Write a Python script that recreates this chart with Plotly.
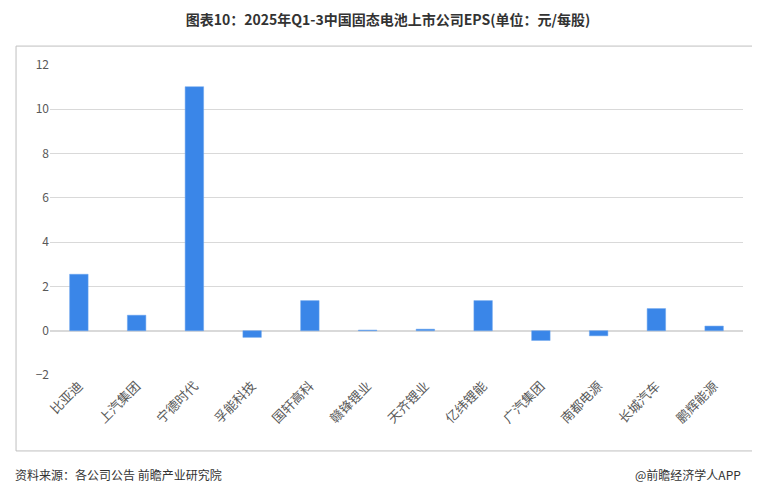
import plotly.graph_objects as go

companies = ["比亚迪","上汽集团","宁德时代","孚能科技","国轩高科","赣锋锂业","天齐锂业","亿纬锂能","广汽集团","南都电源","长城汽车","鹏辉能源"]
eps = [2.55, 0.70, 11.02, -0.30, 1.36, 0.03, 0.07, 1.36, -0.44, -0.23, 1.00, 0.21]
yticks = [-2, 0, 2, 4, 6, 8, 10, 12]

fig = go.Figure(go.Bar(x=companies, y=eps, marker=dict(color="#3a86e8", line=dict(color="#6aa5ee", width=0.5)), width=0.32))
font = "Noto Sans CJK SC"
fig.update_layout(
    width=760, height=495, paper_bgcolor="white", plot_bgcolor="white",
    margin=dict(l=42, r=25, t=57, b=128),
    font=dict(family=font, size=12, color="#595959"),
    showlegend=False,
    title=dict(text="<b>图表10：2025年Q1-3中国固态电池上市公司EPS(单位：元/每股)</b>", x=0.5, xanchor="center", y=0.985, yanchor="top", font=dict(size=14, color="#333333")),
    xaxis=dict(tickangle=-45, showline=False, ticks="", tickfont=dict(size=13, color="#595959")),
    yaxis=dict(range=[-2, 12], tickvals=yticks, showgrid=True, gridcolor="#d9d9d9", zeroline=True, zerolinecolor="#d9d9d9", ticks="", tickfont=dict(size=12, color="#595959")),
    shapes=[dict(type="rect", xref="paper", yref="paper", x0=-0.049, x1=1.0245, y0=-0.245, y1=1.061, line=dict(color="#bfbfbf", width=1))],
    annotations=[
        dict(text="资料来源：各公司公告 前瞻产业研究院", xref="paper", yref="paper", x=-0.054, y=-0.32, xanchor="left", yanchor="middle", showarrow=False, font=dict(size=12, color="#333333")),
        dict(text="@前瞻经济学人APP", xref="paper", yref="paper", x=1.0, y=-0.32, xanchor="right", yanchor="middle", showarrow=False, font=dict(size=12, color="#333333")),
    ],
)
fig.write_html("out.html")
